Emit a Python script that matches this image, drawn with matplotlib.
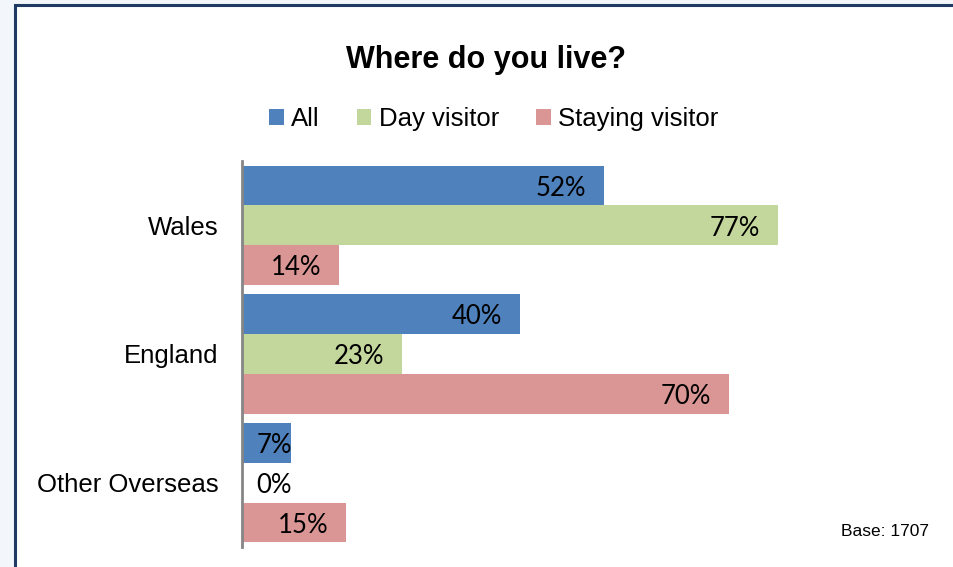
import matplotlib
matplotlib.use("Agg")
import matplotlib.pyplot as plt
from matplotlib.patches import Rectangle
import matplotlib.transforms as mtransforms
import numpy as np

categories = ["Wales", "England", "Other Overseas"]
series_names = ["All", "Day visitor", "Staying visitor"]
all_vals = [52, 40, 7]
day_vals = [77, 23, 0]
staying_vals = [14, 70, 15]
colors = ["#4F81BD", "#C3D69B", "#D99694"]

W, H, DPI = 954, 567, 100
fig = plt.figure(figsize=(W / DPI, H / DPI), dpi=DPI)
fig.patch.set_facecolor("#F3F6FB")

# white chart area with dark navy frame
frame = Rectangle((15 / W, -0.2), 1.2, 0.2 + (H - 5) / H,
                  transform=fig.transFigure, facecolor="white",
                  edgecolor="#1F3B63", linewidth=2.2, zorder=0)
fig.patches.append(frame)

ax_left, ax_right = 242 / W, 938 / W
ax_top, ax_bottom = 1 - 161 / H, 1 - 547 / H
ax = fig.add_axes([ax_left, ax_bottom, ax_right - ax_left, ax_top - ax_bottom])
ax.set_zorder(2)
ax.set_facecolor("none")

values = [all_vals, day_vals, staying_vals]
bar_h = 0.31
y = np.arange(len(categories))
label_font = dict(family="Lato", fontsize=18.5, color="black")
# nudge value labels slightly downward
label_tr = ax.transData + mtransforms.ScaledTranslation(0, -2 / 72, fig.dpi_scale_trans)

for i, (name, vals, col) in enumerate(zip(series_names, values, colors)):
    pos = y + (i - 1) * bar_h
    ax.barh(pos, vals, height=bar_h, color=col, label=name, zorder=2)
    for p, v in zip(pos, vals):
        xr = max(v - 2.6, 7.2)
        ax.text(xr, p, f"{v}%", ha="right", va="center", zorder=3,
                transform=label_tr, **label_font)

ax.set_xlim(0, 100)
ax.set_ylim(len(categories) - 0.5, -0.5)
ax.set_yticks(y)
ax.set_yticklabels(categories, family="Liberation Sans", fontsize=18.5)
ax.tick_params(axis="y", length=0, pad=17)
ax.set_xticks([])
for s in ["top", "right", "bottom"]:
    ax.spines[s].set_visible(False)
ax.spines["left"].set_color("#868686")
ax.spines["left"].set_linewidth(2)

fig.text(486 / W, 1 - 60 / H, "Where do you live?", ha="center", va="center",
         family="Liberation Sans", fontweight="bold", fontsize=22)

handles, labels = ax.get_legend_handles_labels()
fig.legend(handles, labels, ncol=3, loc="center",
           bbox_to_anchor=(494 / W, 1 - 119 / H), frameon=False,
           prop=dict(family="Liberation Sans", size=18.5),
           handlelength=0.55, handleheight=0.55, handletextpad=0.3,
           columnspacing=1.45, borderaxespad=0, borderpad=0)

fig.text(929 / W, 1 - 532 / H, "Base: 1707", ha="right", va="center",
         family="Liberation Sans", fontsize=12.5)

fig.savefig("out.png", dpi=DPI, facecolor=fig.get_facecolor())
